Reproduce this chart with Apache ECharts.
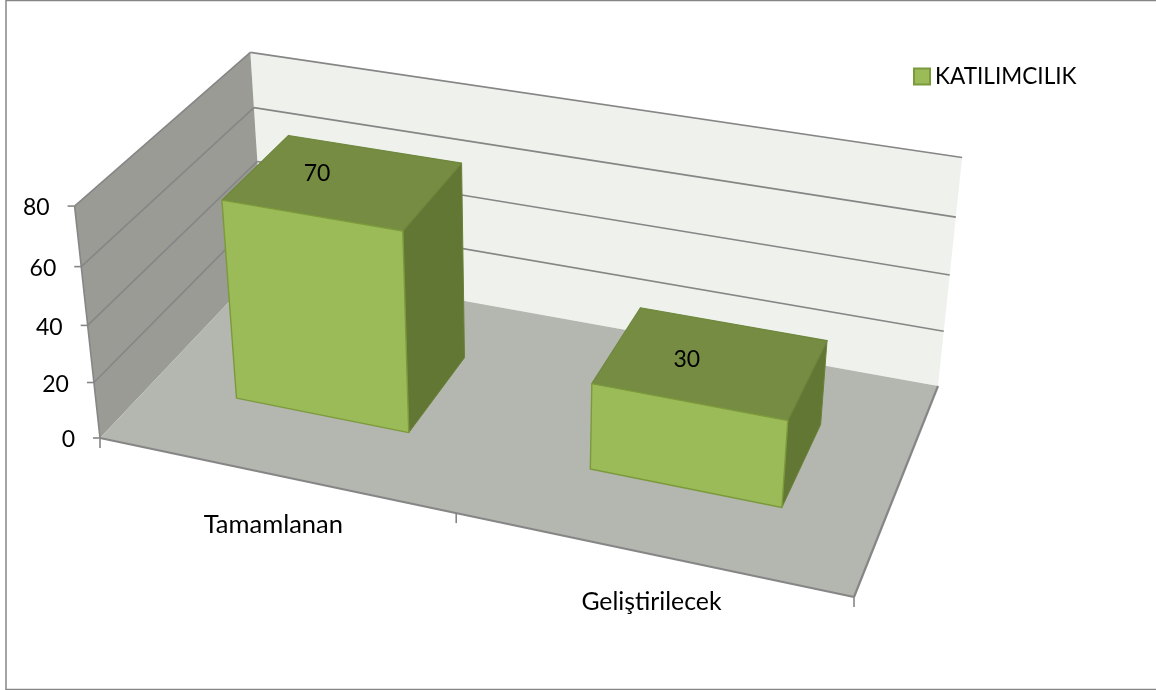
<!DOCTYPE html>
<html><head><meta charset="utf-8">
<style>html,body{margin:0;padding:0;background:#fff}#c{width:1156px;height:690px}</style>
<script src="https://cdn.jsdelivr.net/npm/echarts@6/dist/echarts.min.js"></script>
</head><body><div id="c"></div>
<script>
// ---- data ----
var categories = ['Tamamlanan', 'Geliştirilecek'];
var seriesName = 'KATILIMCILIK';
var values = [70, 30];
var yTicks = [0, 20, 40, 60, 80];

// ---- perspective camera (screen anchors of the chart box) ----
var floorFL = [100, 438], floorFR = [854, 597], floorBR = [938, 386], floorBL = [264, 265];
var topFL = [74, 205], topBL = [251, 52], topBR = [962, 159];
var barWidth = 0.5, depthFront = 0.3, depthBack = 0.705;
var COL = {wallL:'#999B94', wallB:'#EFF2EC', floor:'#B4B7B0', line:'#868686', front:'#9BBB59', top:'#758C42', side:'#637735', edgeF:'#7C9A3C', edgeT:'#6F873D', edgeS:'#6A8236'};
var FONT = 'Lato';
// label styling, per text because the substitute font's proportions differ
var catFontSize = [25.5, 24.8], catOffset = [[0,50],[2,48]];
var valueFontSize = 23, valueOffset = [[-26,-8],[-24,-3]];

function homography(p0,p1,p2,p3){
  var dx1=p1[0]-p2[0],dx2=p3[0]-p2[0],sx=p0[0]-p1[0]+p2[0]-p3[0];
  var dy1=p1[1]-p2[1],dy2=p3[1]-p2[1],sy=p0[1]-p1[1]+p2[1]-p3[1];
  var den=dx1*dy2-dx2*dy1, g=(sx*dy2-dx2*sy)/den, h=(dx1*sy-sx*dy1)/den;
  return {a:p1[0]-p0[0]+g*p1[0], b:p3[0]-p0[0]+h*p3[0], c:p0[0],
          d:p1[1]-p0[1]+g*p1[1], e:p3[1]-p0[1]+h*p3[1], f:p0[1], g:g, h:h};
}
var H = homography(floorFL, floorFR, floorBR, floorBL);
function fitVertical(){
  var ref=[[0,0,topFL],[0,1,topBL],[1,1,topBR]], A=[[0,0,0,0],[0,0,0,0],[0,0,0,0]];
  function add(r,b){for(var i=0;i<3;i++){for(var j=0;j<3;j++)A[i][j]+=r[i]*r[j];A[i][3]+=r[i]*b;}}
  ref.forEach(function(q){
    var X=H.a*q[0]+H.b*q[1]+H.c, Y=H.d*q[0]+H.e*q[1]+H.f, W=H.g*q[0]+H.h*q[1]+1, s=q[2];
    add([1,0,-s[0]], s[0]*W-X); add([0,1,-s[1]], s[1]*W-Y);
  });
  for(var i=0;i<3;i++){for(var k=i+1;k<3;k++){var m=A[k][i]/A[i][i];for(var j=i;j<4;j++)A[k][j]-=m*A[i][j];}}
  var v=[0,0,0];
  for(i=2;i>=0;i--){var t=A[i][3];for(j=i+1;j<3;j++)t-=A[i][j]*v[j];v[i]=t/A[i][i];}
  return v;
}
var V = fitVertical();
var G = {left:100, top:100, width:800, height:400};
// x in category units and value y pass through the (hidden) cartesian scales, z is depth 0..1
function P(api, x, y, z){
  var c = api.coord([x, y]);
  var u = (c[0]-G.left)/G.width, t = (G.top+G.height-c[1])/G.height;
  var w = H.g*u+H.h*z+1+V[2]*t;
  return [(H.a*u+H.b*z+H.c+V[0]*t)/w, (H.d*u+H.e*z+H.f+V[1]*t)/w];
}
function poly(pts, fill, stroke, lw){
  return {type:'polygon', shape:{points:pts}, style:{fill:fill, stroke:stroke||null, lineWidth:lw||0, lineJoin:'round'}};
}
function seg(a, b, lw){
  return {type:'line', shape:{x1:a[0],y1:a[1],x2:b[0],y2:b[1]}, style:{stroke:COL.line, lineWidth:lw||1.6, fill:null}};
}
function txt(s, x, y, align, size){
  return {type:'text', style:{text:s, x:x, y:y, align:align||'center', verticalAlign:'middle', fill:'#000', fontFamily:FONT, fontSize:size||valueFontSize}};
}
var N = categories.length, yMax = yTicks[yTicks.length-1];

function renderFrame(params, api){
  var ch = [];
  var f0=P(api,0,0,0), f1=P(api,N,0,0), b1=P(api,N,0,1), b0=P(api,0,0,1);
  var t0=P(api,0,yMax,0), tb0=P(api,0,yMax,1), tb1=P(api,N,yMax,1);
  ch.push(poly([b0,b1,tb1,tb0], COL.wallB));
  ch.push(poly([f0,b0,tb0,t0], COL.wallL));
  ch.push(poly([f0,f1,b1,b0], COL.floor));
  yTicks.forEach(function(v){
    var a=P(api,0,v,0), b=P(api,0,v,1), c=P(api,N,v,1);
    if(v>0){ ch.push(seg(a,b)); ch.push(seg(b,c)); }
    ch.push(seg([a[0]-7,a[1]],a));
    ch.push(txt(String(v), a[0]-25, a[1]+2, 'right'));
  });
  ch.push(seg(f0,t0));
  ch.push(seg(f0,f1,2.2));
  ch.push(seg(f1,b1,2.2));
  for(var i=0;i<=N;i++){ var q=P(api,i,0,0); ch.push(seg(q,[q[0],q[1]+10])); }
  categories.forEach(function(name,i){
    var q=P(api,i+0.5,0,0);
    ch.push(txt(name,q[0]+catOffset[i][0],q[1]+catOffset[i][1],'center',catFontSize[i]));
  });
  return {type:'group', children:ch};
}
function renderBar(params, api){
  var i=api.value(0), v=api.value(1), x0=i+(1-barWidth)/2, x1=x0+barWidth;
  var A=P(api,x0,0,depthFront),B=P(api,x1,0,depthFront),C=P(api,x1,v,depthFront),D=P(api,x0,v,depthFront);
  var E=P(api,x1,0,depthBack),F=P(api,x1,v,depthBack),K=P(api,x0,v,depthBack);
  var mid=P(api,i+0.5,v,0.5);
  return {type:'group', children:[
    poly([B,E,F,C], COL.side, COL.edgeS, 1),
    poly([D,C,F,K], COL.top, COL.edgeT, 1.2),
    poly([A,B,C,D], COL.front, COL.edgeF, 1.4),
    txt(String(v), mid[0]+valueOffset[i][0], mid[1]+valueOffset[i][1])
  ]};
}
var chart = echarts.init(document.getElementById('c'));
chart.setOption({
  animation:false, backgroundColor:'#fff',
  grid:G,
  xAxis:{type:'value', min:0, max:N, show:false},
  yAxis:{type:'value', min:0, max:yMax, interval:20, show:false},
  legend:{data:[seriesName], left:913, top:65, itemWidth:16, itemHeight:16, itemGap:7, icon:'rect', selectedMode:false,
    textStyle:{fontFamily:FONT, fontSize:22.6, color:'#000', padding:0}, padding:0},
  graphic:[{type:'polyline', silent:true, shape:{points:[[1156,0.5],[6,0.5],[6,689.5],[1156,689.5]]}, style:{fill:null, stroke:'#868686', lineWidth:1.5}}],
  series:[
    {type:'custom', name:'frame', renderItem:renderFrame, data:[[0,0]], silent:true, z:1, clip:false},
    {type:'custom', name:seriesName, renderItem:renderBar, clip:false, z:2,
     itemStyle:{color:COL.front, borderColor:COL.edgeF, borderWidth:1},
     data:values.map(function(v,i){return [i,v];}), encode:{x:0,y:1}}
  ]
});
</script></body></html>
